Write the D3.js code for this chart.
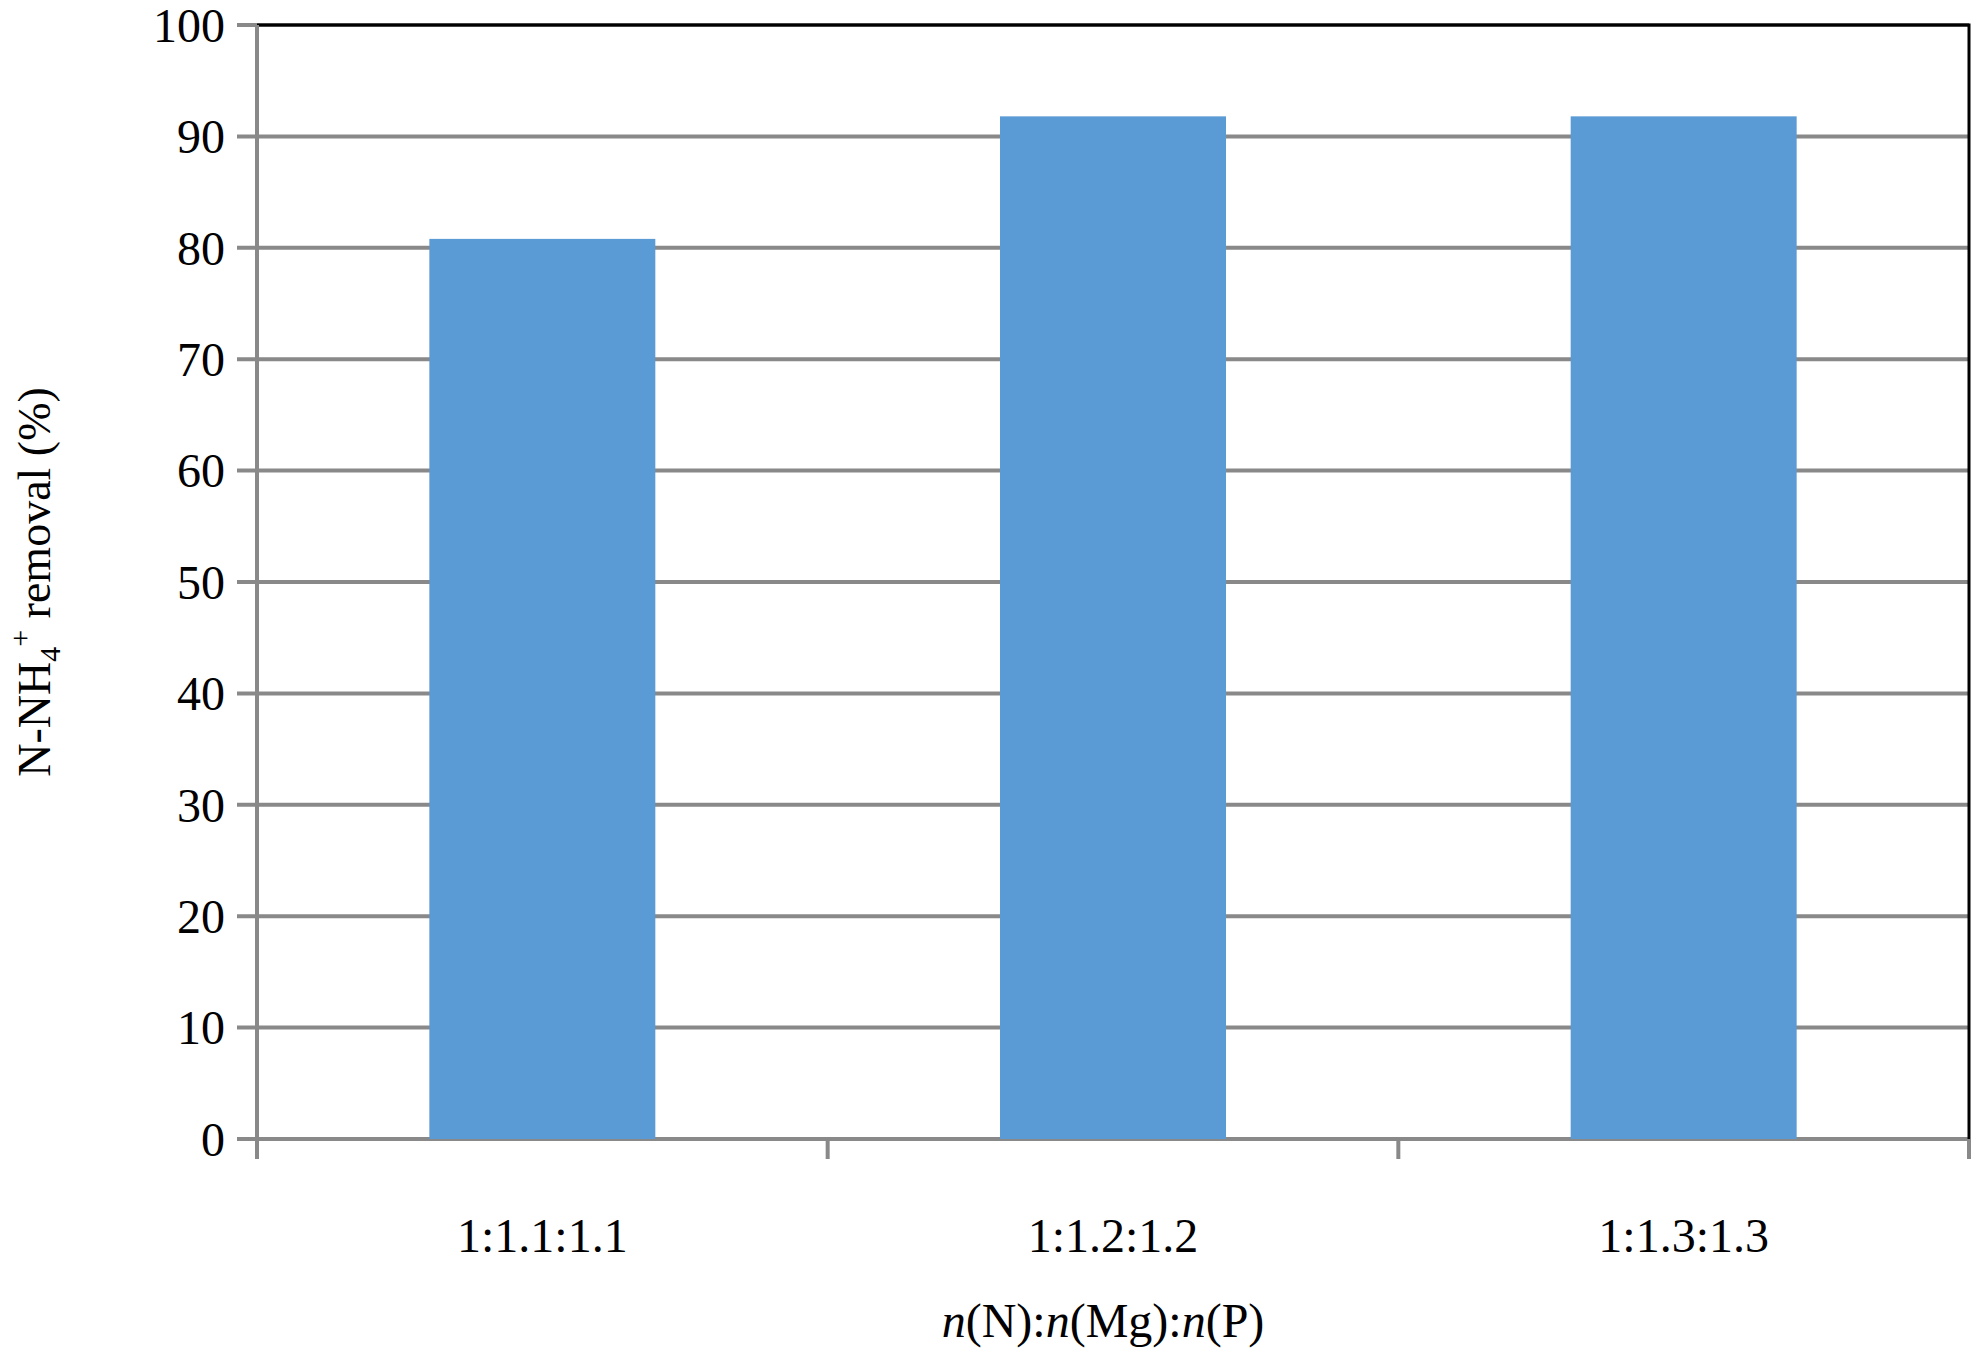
<!DOCTYPE html>
<html><head><meta charset="utf-8">
<script src="https://cdn.jsdelivr.net/npm/d3@7"></script>
<style>body{margin:0;background:#fff}svg{display:block}</style>
</head><body><div id="wrapper"></div>
<script>
const categories = ['1:1.1:1.1', '1:1.2:1.2', '1:1.3:1.3']
const removal = [80.8, 91.8, 91.8]
const yTicks = [0, 10, 20, 30, 40, 50, 60, 70, 80, 90, 100]

const dims = {width: 1982, height: 1362, margin: {top: 25, right: 13, bottom: 223, left: 257}}
dims.bw = dims.width - dims.margin.left - dims.margin.right
dims.bh = dims.height - dims.margin.top - dims.margin.bottom
const font = '"Liberation Serif", "DejaVu Serif", serif'

const svg = d3.select('#wrapper').append('svg')
  .attr('width', dims.width).attr('height', dims.height)
const g = svg.append('g').attr('transform', `translate(${dims.margin.left},${dims.margin.top})`)

const x = d3.scaleBand().domain(categories).range([0, dims.bw]).paddingInner(0.604).paddingOuter(0.302)
const xb = d3.scaleBand().domain(categories).range([0, dims.bw])
const y = d3.scaleLinear().domain([0, 100]).range([dims.bh, 0])

// grid
g.selectAll('.grid').data(yTicks).join('line')
  .attr('x1', -20).attr('x2', dims.bw)
  .attr('y1', d => y(d)).attr('y2', d => y(d))
  .attr('stroke', '#898989').attr('stroke-width', 4)

// border top/right
g.append('path').attr('d', `M0,0H${dims.bw}V${dims.bh}`).attr('fill', 'none').attr('stroke', '#000').attr('stroke-width', 3)

// bars
g.selectAll('.bar').data(removal).join('rect')
  .attr('x', (d, i) => x(categories[i])).attr('width', x.bandwidth())
  .attr('y', d => y(d)).attr('height', d => dims.bh - y(d))
  .attr('fill', '#5b9bd5')

// y axis line
g.append('line').attr('x1', 0).attr('x2', 0).attr('y1', 0).attr('y2', dims.bh)
  .attr('stroke', '#898989').attr('stroke-width', 4)
// x axis ticks
const xt = [0, ...categories.map(c => xb(c) + xb.bandwidth())]
g.selectAll('.xt').data(xt).join('line')
  .attr('x1', d => d).attr('x2', d => d).attr('y1', dims.bh).attr('y2', dims.bh + 20)
  .attr('stroke', '#898989').attr('stroke-width', 4)

// labels
g.selectAll('.yl').data(yTicks).join('text')
  .attr('x', -32).attr('y', d => y(d)).attr('dy', '0.35em')
  .attr('text-anchor', 'end').attr('font-family', font).attr('font-size', 48).text(d => d)
g.selectAll('.xl').data(categories).join('text')
  .attr('x', d => xb(d) + xb.bandwidth() / 2).attr('y', dims.bh + 113)
  .attr('text-anchor', 'middle').attr('font-family', font).attr('font-size', 48).text(d => d)

const xTitle = g.append('text').attr('x', dims.bw / 2 - 10).attr('y', dims.bh + 198)
  .attr('text-anchor', 'middle').attr('font-family', font).attr('font-size', 48)
;[['n', true], ['(N):', false], ['n', true], ['(Mg):', false], ['n', true], ['(P)', false]]
  .forEach(([t, it]) => xTitle.append('tspan').attr('font-style', it ? 'italic' : 'normal').text(t))

const yTitle = svg.append('text')
  .attr('transform', `translate(50,${dims.margin.top + dims.bh / 2}) rotate(-90)`)
  .attr('text-anchor', 'middle').attr('font-family', font).attr('font-size', 46)
yTitle.append('tspan').text('N-NH')
yTitle.append('tspan').attr('font-size', 30).attr('dy', 10).text('4')
yTitle.append('tspan').attr('font-size', 30).attr('dy', -30).text('+')
yTitle.append('tspan').attr('dy', 20).text(' removal (%)')
</script></body></html>
